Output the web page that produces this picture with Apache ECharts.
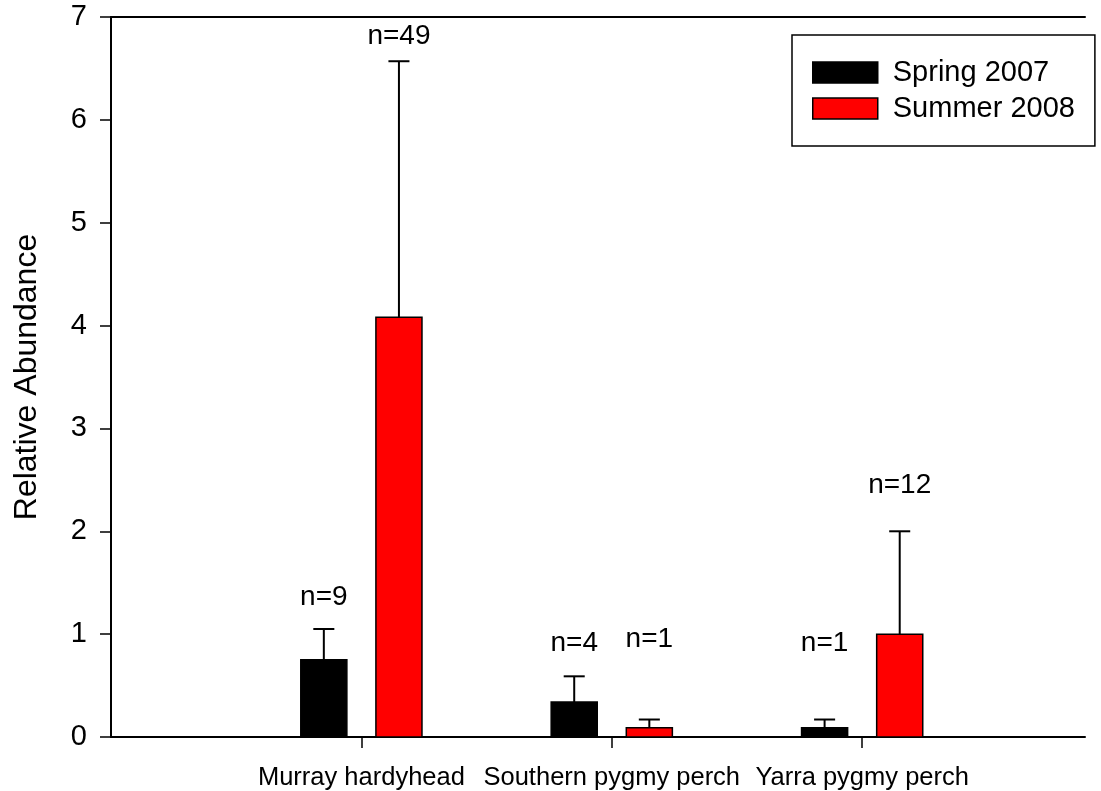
<!DOCTYPE html>
<html>
<head>
<meta charset="utf-8">
<title>Relative Abundance</title>
<script src="https://cdn.jsdelivr.net/npm/echarts@6/dist/echarts.min.js"></script>
<style>
  html, body { margin: 0; padding: 0; background: #fff; }
  #chart { width: 1101px; height: 791px; }
</style>
</head>
<body>
<div id="chart"></div>
<script>
// Species sampled, one group of bars per species (placed at x = 1, 2, 3)
const categories = ['Murray hardyhead', 'Southern pygmy perch', 'Yarra pygmy perch'];

// Mean relative abundance and the top of the upper error bar
const springMean  = [0.75, 0.34, 0.09];
const springUpper = [1.05, 0.59, 0.17];
const summerMean  = [4.08, 0.09, 1.00];
const summerUpper = [6.57, 0.17, 2.00];

// Sample sizes and the height (in abundance units) where each n label sits
const springN = [9, 4, 1];
const summerN = [49, 1, 12];
const springLabelAt = [1.36, 0.91, 0.91];
const summerLabelAt = [6.81, 0.95, 2.45];

const yTicks = [0, 1, 2, 3, 4, 5, 6, 7];

const FONT = 'Liberation Sans, Arial, Helvetica, sans-serif';
const BAR_HALF = 0.092;   // half bar width, x units
const BAR_SHIFT = 0.15;   // bar centre offset from the group centre
const CAP_HALF = 0.042;   // half width of error-bar caps

function makeRender(shift, fill) {
  return function (params, api) {
    const x = api.value(0) + shift;
    const mean = api.value(1);
    const upper = api.value(2);
    const tl = api.coord([x - BAR_HALF, mean]);
    const br = api.coord([x + BAR_HALF, 0]);
    const top = api.coord([x, mean]);
    const err = api.coord([x, upper]);
    const capL = api.coord([x - CAP_HALF, upper]);
    const capR = api.coord([x + CAP_HALF, upper]);
    const labelPt = api.coord([x, api.value(4)]);
    return {
      type: 'group',
      children: [
        {
          type: 'line',
          shape: { x1: top[0], y1: top[1], x2: err[0], y2: err[1] },
          style: { stroke: '#000', lineWidth: 2 }
        },
        {
          type: 'line',
          shape: { x1: capL[0], y1: capL[1], x2: capR[0], y2: capR[1] },
          style: { stroke: '#000', lineWidth: 2 }
        },
        {
          type: 'rect',
          shape: { x: tl[0], y: tl[1], width: br[0] - tl[0], height: br[1] - tl[1] },
          style: { fill: fill, stroke: '#000', lineWidth: 1.5 }
        },
        {
          type: 'text',
          x: labelPt[0],
          y: labelPt[1],
          style: {
            text: 'n=' + api.value(3),
            fontFamily: FONT,
            fontSize: 28,
            fill: '#000',
            align: 'center',
            verticalAlign: 'middle'
          }
        }
      ]
    };
  };
}

function rows(mean, upper, n, labelAt) {
  return categories.map((c, i) => [i + 1, mean[i], upper[i], n[i], labelAt[i]]);
}

const chart = echarts.init(document.getElementById('chart'), null, { renderer: 'canvas' });

chart.setOption({
  backgroundColor: '#fff',
  animation: false,
  textStyle: { fontFamily: FONT, color: '#000' },
  grid: { left: 111, right: 16, top: 17, bottom: 54, containLabel: false },
  legend: {
    orient: 'vertical',
    left: 792,
    top: 35,
    padding: [23, 20, 23, 20],
    itemWidth: 65,
    itemHeight: 21,
    itemGap: 7,
    icon: 'rect',
    borderColor: '#000',
    borderWidth: 1.5,
    borderRadius: 0,
    itemStyle: { borderColor: '#000', borderWidth: 1.5 },
    textStyle: { fontFamily: FONT, fontSize: 29, color: '#000', lineHeight: 21, padding: [0, 0, 0, 10] },
    data: ['Spring 2007', 'Summer 2008']
  },
  xAxis: [
    {
      type: 'value',
      min: 0,
      max: 3.89,
      interval: 1,
      position: 'bottom',
      splitLine: { show: false },
      axisLine: { show: true, lineStyle: { color: '#000', width: 2 } },
      axisTick: {
        show: true,
        inside: false,
        length: 11,
        lineStyle: { color: '#000', width: 1.5 },
        customValues: [1, 2, 3]
      },
      axisLabel: {
        show: true,
        customValues: [1, 2, 3],
        margin: 28,
        fontFamily: FONT,
        fontSize: 25.5,
        color: '#000',
        formatter: v => categories[Math.round(v) - 1] || ''
      }
    },
    {
      type: 'value',
      min: 0,
      max: 3.89,
      position: 'top',
      splitLine: { show: false },
      axisLine: { show: true, onZero: false, lineStyle: { color: '#000', width: 2 } },
      axisTick: { show: false },
      axisLabel: { show: false }
    }
  ],
  yAxis: {
    type: 'value',
    min: yTicks[0],
    max: yTicks[yTicks.length - 1],
    interval: 1,
    name: 'Relative Abundance',
    nameLocation: 'middle',
    nameGap: 68,
    nameTextStyle: { fontFamily: FONT, fontSize: 32, color: '#000' },
    splitLine: { show: false },
    axisLine: { show: true, lineStyle: { color: '#000', width: 2 } },
    axisTick: { show: true, inside: false, length: 11, lineStyle: { color: '#000', width: 1.5 } },
    axisLabel: { margin: 24, fontFamily: FONT, fontSize: 29, color: '#000' }
  },
  series: [
    {
      name: 'Spring 2007',
      type: 'custom',
      xAxisIndex: 0,
      itemStyle: { color: '#000000' },
      renderItem: makeRender(-BAR_SHIFT, '#000000'),
      encode: { x: 0, y: [1, 2, 4] },
      data: rows(springMean, springUpper, springN, springLabelAt),
      clip: false
    },
    {
      name: 'Summer 2008',
      type: 'custom',
      xAxisIndex: 0,
      itemStyle: { color: '#ff0000' },
      renderItem: makeRender(BAR_SHIFT, '#ff0000'),
      encode: { x: 0, y: [1, 2, 4] },
      data: rows(summerMean, summerUpper, summerN, summerLabelAt),
      clip: false
    }
  ]
});
</script>
</body>
</html>
